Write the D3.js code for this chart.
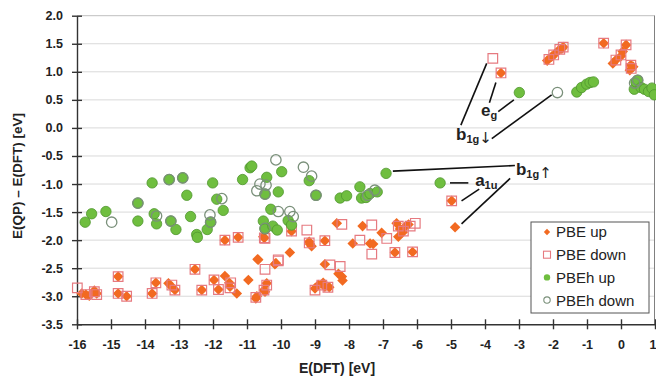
<!DOCTYPE html>
<html>
<head>
<meta charset="utf-8">
<script src="https://cdn.jsdelivr.net/npm/d3@7"></script>
<style>
    body { margin: 0; background: #fff; }
    svg { display: block; }
    text { font-family: 'Liberation Sans', Arial, sans-serif; fill: #222; }
</style>
</head>
<body>
<svg width="656" height="382"></svg>
<script>
// tick values
const xTicks = [-16, -15, -14, -13, -12, -11, -10, -9, -8, -7, -6, -5, -4, -3, -2, -1, 0, 1]
const yTicks = [-3.5, -3, -2.5, -2, -1.5, -1, -0.5, 0, 0.5, 1, 1.5, 2]

// [E(DFT), E(QP)-E(DFT)]
const pbeUp = [
    [-15.86, -2.95], [-15.74, -2.97], [-15.64, -2.99], [-15.49, -2.9], [-15.42, -2.95],
    [-14.79, -2.65], [-14.79, -2.95], [-14.54, -3.0],
    [-13.79, -2.95], [-13.68, -2.76], [-13.31, -2.77], [-13.21, -2.83], [-13.12, -2.89],
    [-12.53, -2.52], [-12.33, -2.89],
    [-11.97, -2.71], [-11.84, -2.88], [-11.65, -2.64], [-11.52, -2.76], [-11.5, -2.83], [-11.3, -2.95],
    [-10.96, -2.71], [-10.74, -3.04], [-10.71, -3.0], [-10.67, -2.35], [-10.5, -2.89], [-10.47, -2.92],
    [-10.42, -2.77], [-10.15, -2.41],
    [-11.65, -2.0], [-11.26, -1.95], [-10.49, -1.96], [-10.69, -2.34],
    [-10.52, -1.94], [-9.69, -1.84], [-9.74, -2.22], [-10.18, -2.43],
    [-9.17, -2.03], [-9.15, -2.07], [-9.1, -2.11], [-8.71, -2.01], [-8.71, -2.43],
    [-9.0, -2.86], [-8.9, -2.8], [-8.76, -2.76], [-8.71, -2.83], [-8.58, -2.84],
    [-8.36, -1.7], [-8.31, -2.6], [-8.21, -2.65], [-8.19, -2.72],
    [-7.89, -2.06], [-7.6, -1.75], [-7.38, -2.06], [-7.29, -2.07], [-7.04, -1.87],
    [-6.6, -1.7], [-6.55, -1.94], [-6.5, -1.8], [-6.42, -1.86], [-6.35, -1.76], [-6.25, -1.72],
    [-6.65, -2.22], [-6.13, -2.21],
    [-4.98, -1.3], [-4.88, -1.77],
    [-3.53, 0.98],
    [-2.17, 1.2], [-2.04, 1.27], [-1.94, 1.32], [-1.84, 1.38], [-1.74, 1.41], [-1.7, 1.44],
    [-0.51, 1.51], [0.15, 1.48], [0.05, 1.36], [0.0, 1.28], [-0.15, 1.21], [-0.24, 1.15],
    [0.29, 1.12], [0.36, 1.09], [0.26, 1.03],
]

const pbeDown = [
    [-15.99, -2.85], [-15.74, -2.97], [-15.49, -2.92], [-15.42, -2.97],
    [-14.79, -2.65], [-14.79, -2.95], [-14.54, -3.0],
    [-13.79, -2.95], [-13.68, -2.76], [-13.21, -2.8], [-13.12, -2.89],
    [-12.53, -2.52], [-12.33, -2.89],
    [-11.97, -2.71], [-11.84, -2.88], [-11.48, -2.76], [-11.5, -2.85],
    [-10.74, -3.02], [-10.47, -2.52], [-10.42, -2.8], [-10.5, -2.89], [-10.08, -2.35],
    [-11.65, -2.0], [-11.26, -1.95], [-10.49, -1.96],
    [-10.47, -1.97], [-10.08, -2.37], [-9.69, -1.84], [-9.24, -1.82], [-9.17, -2.05], [-8.71, -2.01],
    [-8.56, -2.44], [-8.26, -2.47], [-9.0, -2.89], [-8.8, -2.8], [-8.62, -2.84],
    [-8.21, -1.72], [-7.68, -2.0], [-7.33, -1.73], [-7.33, -2.25], [-6.89, -1.97],
    [-6.55, -1.75], [-6.4, -1.84], [-6.2, -1.75], [-6.05, -1.7], [-6.65, -2.22], [-6.13, -2.21],
    [-4.98, -1.3],
    [-3.77, 1.24], [-3.53, 0.98],
    [-2.12, 1.22], [-1.98, 1.3], [-1.8, 1.4], [-1.7, 1.44],
    [-0.51, 1.51], [0.15, 1.48], [0.0, 1.3], [-0.15, 1.21], [0.29, 1.12], [0.3, 1.06],
]

const pbehUp = [
    [-15.76, -1.68], [-15.57, -1.53], [-15.15, -1.49],
    [-14.21, -1.34], [-14.21, -1.66],
    [-13.79, -0.98], [-13.73, -1.53], [-13.66, -1.71], [-13.29, -0.92], [-13.24, -1.66], [-13.09, -1.81],
    [-12.89, -0.89], [-12.77, -1.2], [-12.66, -1.58], [-12.48, -1.9], [-12.46, -1.95], [-12.17, -1.81],
    [-12.07, -1.68], [-12.01, -0.98],
    [-11.89, -1.27], [-11.7, -1.47], [-11.13, -0.92], [-10.91, -0.71], [-10.86, -0.68],
    [-10.52, -1.66], [-10.47, -1.18], [-10.47, -1.8], [-10.42, -0.88], [-10.3, -1.45], [-10.24, -1.75],
    [-10.11, -1.82], [-10.08, -1.14],
    [-9.98, -0.78], [-9.79, -1.65], [-9.69, -1.73], [-9.17, -0.94], [-8.97, -1.2],
    [-8.26, -1.25], [-8.07, -1.21], [-7.68, -1.05], [-7.63, -1.25], [-7.5, -1.24], [-7.38, -1.17], [-7.17, -1.14],
    [-6.91, -0.81], [-5.32, -0.98],
    [-2.99, 0.63],
    [-1.3, 0.64], [-1.16, 0.72], [-1.01, 0.78], [-0.91, 0.81], [-0.81, 0.82],
    [0.39, 0.69], [0.44, 0.82], [0.49, 0.85], [0.59, 0.72], [0.69, 0.69], [0.81, 0.65], [0.91, 0.71], [0.98, 0.59],
]

const pbehDown = [
    [-14.98, -1.68], [-14.21, -1.34], [-13.66, -1.57], [-13.29, -0.92], [-13.24, -1.66], [-12.89, -0.89],
    [-12.09, -1.55], [-12.07, -1.68], [-11.74, -1.26],
    [-10.71, -1.12], [-10.62, -1.0], [-10.44, -1.02], [-10.47, -1.18], [-10.15, -0.57], [-10.47, -1.79],
    [-10.08, -1.49], [-9.74, -1.49], [-9.64, -1.58], [-9.34, -0.7], [-9.1, -0.86], [-8.97, -1.2],
    [-7.24, -1.11], [-7.45, -1.2],
    [-1.87, 0.63],
    [0.49, 0.85], [0.4, 0.8],
]

// annotation leader lines and labels, in data units
const leaders = [
    [[-3.87, 0.45], [-3.68, 0.81]],
    [[-3.61, 0.29], [-3.15, 0.5]],
    [[-4.71, 0.05], [-3.95, 1.15]],
    [[-3.8, -0.19], [-2.04, 0.59]],
    [[-6.71, -0.77], [-3.12, -0.67]],
    [[-4.69, -1.71], [-3.26, -0.9]],
    [[-5.03, -0.98], [-4.49, -0.98]],
    [[-4.69, -1.3], [-4.17, -1.09]],
]
const labels = [
    { at: [-4.12, 0.21], main: 'e', sub: 'g', arrow: '' },
    { at: [-4.85, -0.22], main: 'b', sub: '1g', arrow: '↓' },
    { at: [-3.09, -0.84], main: 'b', sub: '1g', arrow: '↑' },
    { at: [-4.29, -1.04], main: 'a', sub: '1u', arrow: '' },
]

const series = ['PBE up', 'PBE down', 'PBEh up', 'PBEh down']

const W = 656
const H = 382
const mLeft = 77
const mRight = 1
const mTop = 15.7
const mBottom = 57.7

const orange = '#f26a21'
const pink = '#e67a80'
const green = '#6fbe3f'
const greenEdge = '#4f962e'
const grey = '#7a907a'

const svg = d3.select('svg')
const xScale = d3.scaleLinear().domain([-16, 1]).range([mLeft, W - mRight])
const yScale = d3.scaleLinear().domain([-3.5, 2]).range([H - mBottom, mTop])

// grid
svg.append('g')
    .selectAll('line')
    .data(yTicks.filter((d) => d > -3.5))
    .join('line')
    .attr('x1', xScale(-16))
    .attr('x2', xScale(1))
    .attr('y1', (d) => yScale(d))
    .attr('y2', (d) => yScale(d))
    .attr('stroke', (d) => (d === 2 ? '#bfbfbf' : '#d9d9d9'))
    .attr('stroke-width', 1)

svg.append('line')
    .attr('x1', xScale(1) - 0.5)
    .attr('x2', xScale(1) - 0.5)
    .attr('y1', yScale(2))
    .attr('y2', yScale(-3.5))
    .attr('stroke', '#808080')

// axes
const yAxis = svg.append('g')
    .attr('transform', `translate(${xScale(-16)},0)`)
    .call(d3.axisLeft(yScale).tickValues(yTicks).tickSize(5).tickSizeOuter(0).tickFormat((d) => d.toFixed(1)))
yAxis.selectAll('.tick line').attr('x1', 5)
yAxis.selectAll('.tick text').attr('x', -14)

const xAxis = svg.append('g')
    .attr('transform', `translate(0,${yScale(-3.5)})`)
    .call(d3.axisBottom(xScale).tickValues(xTicks).tickSize(5).tickSizeOuter(0).tickFormat((d) => String(d)))
xAxis.selectAll('.tick line').attr('y1', -5)
xAxis.selectAll('.tick text').attr('y', 16)
// last label sits on the right edge
xAxis.selectAll('.tick text').filter((d) => d === 1).attr('text-anchor', 'end').attr('x', 1)

svg.selectAll('.domain, .tick line').attr('stroke', '#333').attr('stroke-width', 1.4)
svg.selectAll('.tick text')
    .attr('font-size', 12.5)
    .attr('font-weight', 'bold')
    .style('font-family', "'Liberation Sans', Arial, sans-serif")
    .attr('fill', '#222')

svg.append('text')
    .attr('transform', 'translate(22,176) rotate(-90)')
    .attr('text-anchor', 'middle')
    .attr('font-size', 13.5)
    .attr('font-weight', 'bold')
    .text('E(QP) – E(DFT) [eV]')

svg.append('text')
    .attr('x', 337)
    .attr('y', 373)
    .attr('text-anchor', 'middle')
    .attr('font-size', 14)
    .attr('font-weight', 'bold')
    .text('E(DFT) [eV]')

// marks
const diamond = d3.symbol().type(d3.symbolSquare).size(56)
const square = d3.symbol().type(d3.symbolSquare).size(92)

const plot = svg.append('g')

plot.selectAll('path.pbe-up')
    .data(pbeUp)
    .join('path')
    .attr('class', 'pbe-up')
    .attr('d', diamond)
    .attr('transform', (d) => `translate(${xScale(d[0])},${yScale(d[1])}) rotate(45)`)
    .attr('fill', orange)

plot.selectAll('path.pbe-down')
    .data(pbeDown)
    .join('path')
    .attr('class', 'pbe-down')
    .attr('d', square)
    .attr('transform', (d) => `translate(${xScale(d[0])},${yScale(d[1])})`)
    .attr('fill', 'none')
    .attr('stroke', pink)
    .attr('stroke-width', 1.2)

plot.selectAll('circle.pbeh-up')
    .data(pbehUp)
    .join('circle')
    .attr('class', 'pbeh-up')
    .attr('cx', (d) => xScale(d[0]))
    .attr('cy', (d) => yScale(d[1]))
    .attr('r', 5.2)
    .attr('fill', green)
    .attr('stroke', greenEdge)
    .attr('stroke-width', 0.8)

plot.selectAll('circle.pbeh-down')
    .data(pbehDown)
    .join('circle')
    .attr('class', 'pbeh-down')
    .attr('cx', (d) => xScale(d[0]))
    .attr('cy', (d) => yScale(d[1]))
    .attr('r', 5.2)
    .attr('fill', 'none')
    .attr('stroke', grey)
    .attr('stroke-width', 1.3)

// annotations
svg.append('g')
    .selectAll('line')
    .data(leaders)
    .join('line')
    .attr('x1', (d) => xScale(d[0][0]))
    .attr('y1', (d) => yScale(d[0][1]))
    .attr('x2', (d) => xScale(d[1][0]))
    .attr('y2', (d) => yScale(d[1][1]))
    .attr('stroke', '#111')
    .attr('stroke-width', 1.6)

const lab = svg.append('g')
    .selectAll('text')
    .data(labels)
    .join('text')
    .attr('x', (d) => xScale(d.at[0]))
    .attr('y', (d) => yScale(d.at[1]))
    .attr('font-size', 17)
    .attr('font-weight', 'bold')
    .attr('fill', '#111')
lab.append('tspan').text((d) => d.main)
lab.append('tspan').attr('dy', 3).attr('font-size', 11).text((d) => d.sub)
lab.append('tspan')
    .attr('font-size', 15)
    .style('font-family', "'DejaVu Sans', sans-serif")
    .attr('font-weight', 'normal')
    .text((d) => d.arrow)

// legend
const legend = svg.append('g').attr('transform', 'translate(531,222)')
legend.append('rect')
    .attr('width', 118)
    .attr('height', 91)
    .attr('fill', '#fff')
    .attr('stroke', '#555')
    .attr('stroke-width', 1)

const item = legend.selectAll('g.item')
    .data(series)
    .join('g')
    .attr('class', 'item')
    .attr('transform', (d, i) => `translate(16,${10 + i * 22.7})`)

item.filter((d, i) => i === 0).append('path')
    .attr('d', d3.symbol().type(d3.symbolSquare).size(20))
    .attr('transform', 'rotate(45)')
    .attr('fill', orange)
item.filter((d, i) => i === 1).append('rect')
    .attr('x', -3.5).attr('y', -3.5).attr('width', 7).attr('height', 7)
    .attr('fill', 'none').attr('stroke', pink).attr('stroke-width', 1.1)
item.filter((d, i) => i === 2).append('circle')
    .attr('r', 3.2).attr('fill', green)
item.filter((d, i) => i === 3).append('circle')
    .attr('r', 3.2).attr('fill', 'none').attr('stroke', grey).attr('stroke-width', 1.1)

item.append('text')
    .attr('x', 9)
    .attr('dy', '0.36em')
    .attr('font-size', 15)
    .text((d) => d)
</script>
</body>
</html>
